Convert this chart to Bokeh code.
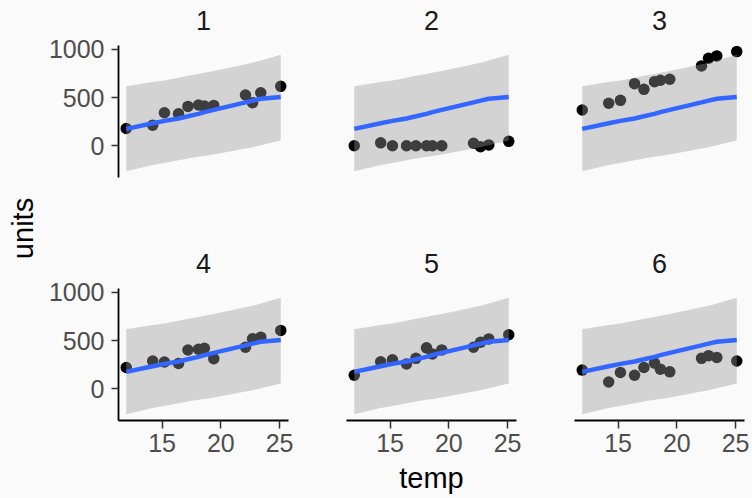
import math
from bokeh.plotting import figure
from bokeh.layouts import row, column
from bokeh.models import Range1d, FixedTicker, Label
from bokeh.embed import file_html
from bokeh.resources import INLINE

# ---------------- data ----------------
temp = [11.95, 14.2, 15.2, 16.4, 17.2, 18.1, 18.6, 19.4, 22.1, 22.7, 23.4, 25.1]

fit = [175, 233, 258, 283, 305, 330, 348, 372, 450, 468, 487, 505]
upper = [618, 662, 676, 705, 725, 745, 758, 776, 846, 862, 885, 945]
lower = [-266, -200, -179, -150, -134, -115, -108, -92, -30, -16, 5, 55]

store_labels = ["1", "2", "3", "4", "5", "6"]
units_1 = [179, 213, 342, 331, 408, 422, 411, 418, 526, 446, 550, 616]
units_2 = [0, 30, 0, 0, 0, 0, 0, 0, 25, -10, 8, 45]
units_3 = [370, 440, 471, 644, 585, 665, 679, 690, 828, 908, 932, 977]
units_4 = [220, 287, 277, 262, 402, 410, 420, 312, 430, 518, 535, 605]
units_5 = [140, 280, 301, 256, 315, 424, 361, 403, 430, 482, 517, 560]
units_6 = [193, 70, 168, 140, 220, 266, 203, 175, 315, 343, 325, 287]
units_all = [units_1, units_2, units_3, units_4, units_5, units_6]

x_ticks = [15, 20, 25]
y_ticks = [0, 500, 1000]
x_title = "temp"
y_title = "units"

# ---------------- style ----------------
BG = "#FAFAFA"
FONT = "Liberation Sans"
XR = (11.29, 25.76)
YR = (-330, 1040)
FRAME_W, FRAME_H = 170, 132
YLAB_W = 40
LEFT_B = [78, 29, 29]
RIGHT_B = [29, 29, 8]
STRIP_H = [35, 34]       # strip-label band above each row
TOP_B = [10, 10]         # room for the half of the top tick label
BOTTOM_B = [67, 42]
XLAB_H = 36


def blank(width, height):
    f = figure(width=width, height=height, x_range=(0, 1), y_range=(0, 1),
               x_axis_location=None, y_axis_location=None,
               output_backend="svg", toolbar_location=None, tools="",
               min_border=0, background_fill_color=BG, border_fill_color=BG,
               outline_line_color=None)
    for g in f.grid:
        g.visible = False
    return f


def style_axis(ax):
    ax.axis_line_color = "black"
    ax.axis_line_width = 1.8
    ax.major_tick_line_color = "#333333"
    ax.major_tick_line_width = 1.5
    ax.major_tick_in = 0
    ax.minor_tick_line_color = None
    ax.major_label_text_font = FONT
    ax.major_label_text_font_size = "25px"
    ax.major_label_text_color = "#4D4D4D"


def panel_width(c):
    return LEFT_B[c] + FRAME_W + RIGHT_B[c]


def make_strip(i):
    r, c = divmod(i, 3)
    s = blank(panel_width(c), STRIP_H[r])
    s.add_layout(Label(x=LEFT_B[c] + FRAME_W / 2, y=15, x_units="screen", y_units="screen",
                       text=store_labels[i], text_align="center", text_baseline="middle",
                       text_font=FONT, text_font_size="27px", text_color="#1A1A1A"))
    return s


def make_panel(i):
    r, c = divmod(i, 3)
    has_y = c == 0
    has_x = r == 1
    p = figure(
        width=panel_width(c),
        height=TOP_B[r] + FRAME_H + BOTTOM_B[r],
        x_range=Range1d(*XR), y_range=Range1d(*YR),
        x_axis_location="below" if has_x else None,
        y_axis_location="left" if has_y else None,
        output_backend="svg", toolbar_location=None, tools="",
        min_border_left=LEFT_B[c], min_border_right=RIGHT_B[c],
        min_border_top=TOP_B[r], min_border_bottom=BOTTOM_B[r],
        background_fill_color=BG, border_fill_color=BG,
        outline_line_color=None,
    )
    for g in p.grid:
        g.visible = False
    if has_y:
        ax = p.yaxis[0]
        ax.ticker = FixedTicker(ticks=y_ticks)
        style_axis(ax)
        ax.major_tick_out = 7
        ax.major_label_standoff = 7
    if has_x:
        ax = p.xaxis[0]
        ax.ticker = FixedTicker(ticks=x_ticks)
        style_axis(ax)
        ax.major_tick_out = 8
        ax.major_label_standoff = 5

    p.scatter(temp, units_all[i], size=11.5, fill_color="black", line_color=None)
    p.varea(x=temp, y1=lower, y2=upper, fill_color="#999999", fill_alpha=0.4)
    p.line(temp, fit, line_color="#3366FF", line_width=4.5)
    return p


strips = [make_strip(i) for i in range(6)]
panels = [make_panel(i) for i in range(6)]

grid_w = sum(LEFT_B) + sum(RIGHT_B) + 3 * FRAME_W
grid_h = sum(STRIP_H) + sum(TOP_B) + sum(BOTTOM_B) + 2 * FRAME_H
total_h = grid_h + XLAB_H

xlab = blank(grid_w, XLAB_H)
xlab.add_layout(Label(x=431 - YLAB_W, y=21, x_units="screen", y_units="screen",
                      text=x_title, text_align="center", text_baseline="middle",
                      text_font=FONT, text_font_size="29px", text_color="black"))

ylab = blank(YLAB_W, total_h)
ylab.add_layout(Label(x=22.7, y=total_h - 228, x_units="screen", y_units="screen",
                      text=y_title, angle=math.pi / 2, text_align="center",
                      text_baseline="middle",
                      text_font=FONT, text_font_size="29px", text_color="black"))

layout = row(ylab, column(row(*strips[:3]), row(*panels[:3]),
                          row(*strips[3:]), row(*panels[3:]), xlab))

html = file_html(layout, INLINE)
style = "<style>html, body { background: %s; }</style>" % BG
if "</head>" in html:
    html = html.replace("</head>", style + "\n</head>", 1)
else:
    html = style + html
open("out.html", "w").write(html)
